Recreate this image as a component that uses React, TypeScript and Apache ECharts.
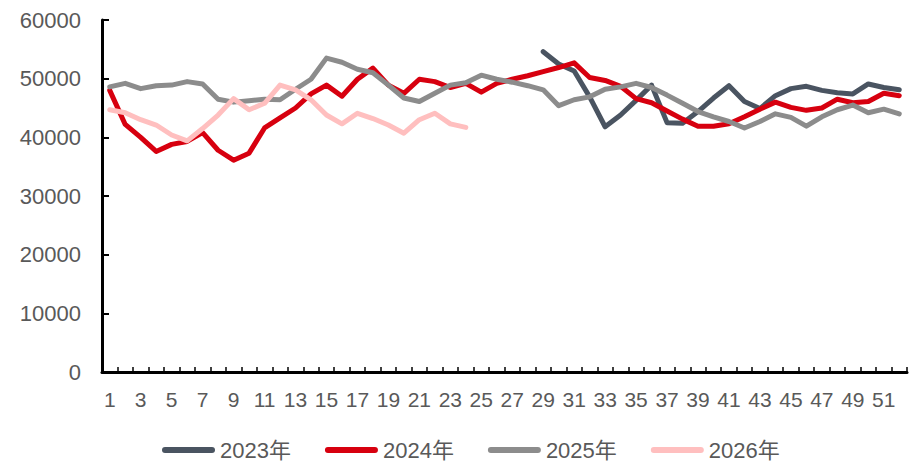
import React, { useEffect, useRef } from "react";
import * as echarts from "echarts";

const weeks: string[] = Array.from({ length: 52 }, (_, i) => String(i + 1));

const yTicks = [0, 10000, 20000, 30000, 40000, 50000, 60000];

const s2023: (number | null)[] = [
  null, null, null, null, null, null, null, null, null, null,
  null, null, null, null, null, null, null, null, null, null,
  null, null, null, null, null, null, null, null,
  54600, 52500, 51300, 46900, 41800, 43800, 46300, 48900, 42500, 42400,
  44400, 46700, 48800, 46100, 44900, 47100, 48300, 48700, 48000, 47600,
  47400, 49100, 48500, 48100,
];

const s2024: number[] = [
  48000, 42200, 40000, 37600, 38800, 39300, 40800, 37800, 36100, 37300,
  41600, 43300, 45000, 47400, 48900, 47000, 49900, 51800, 48900, 47500,
  49900, 49500, 48500, 49200, 47700, 49200, 49900, 50500, 51200, 51900,
  52700, 50200, 49700, 48700, 46600, 45900, 44500, 43100, 41900, 41900,
  42300, 43500, 44800, 46000, 45100, 44600, 45000, 46500, 45900, 46100,
  47500, 47100,
];

const s2025: number[] = [
  48600, 49200, 48300, 48800, 48900, 49500, 49100, 46500, 46000, 46250,
  46500, 46400, 48200, 49900, 53500, 52800, 51600, 51000, 48900, 46700,
  46100, 47500, 48900, 49300, 50600, 49900, 49400, 48800, 48100, 45400,
  46400, 46900, 48200, 48600, 49200, 48500, 47200, 45800, 44400, 43500,
  42700, 41600, 42700, 44000, 43400, 41900, 43500, 44700, 45500, 44200,
  44800, 44000,
];

const s2026: number[] = [
  44700, 44200, 43000, 42100, 40400, 39400, 41500, 43800, 46600, 44700,
  45800, 48900, 48100, 46400, 43800, 42300, 44100, 43200, 42100, 40700,
  43000, 44100, 42300, 41700,
];

const seriesNames = ["2023年", "2024年", "2025年", "2026年"];
const seriesColors = ["#4a5461", "#d7000f", "#8c8c8c", "#ffbfbf"];

export default function App() {
  const ref = useRef<HTMLDivElement>(null);

  useEffect(() => {
    document.body.style.margin = "0";
    if (!ref.current) return;
    const chart = echarts.init(ref.current, undefined, { renderer: "svg" });
    const dataSets = [s2023, s2024, s2025, s2026];
    const legendIcon =
      "path://M3,0 L50,0 A3,3 0 0 1 50,6 L3,6 A3,3 0 0 1 3,0 Z";
    chart.setOption({
      animation: false,
      backgroundColor: "#ffffff",
      grid: { left: 102, right: 2, top: 20, bottom: 93, containLabel: false },
      legend: {
        data: seriesNames.map((n) => ({ name: n, icon: legendIcon })),
        left: 162,
        top: 439,
        padding: 0,
        itemWidth: 53,
        itemHeight: 6,
        itemGap: 34,
        textStyle: {
          color: "#595959",
          fontSize: 22,
          fontFamily: "'Liberation Sans', Arial, 'Noto Sans CJK SC', sans-serif",
        },
      },
      xAxis: {
        type: "category",
        data: weeks,
        boundaryGap: true,
        axisLine: { show: true, lineStyle: { color: "#000000", width: 3 } },
        axisTick: {
          show: true,
          inside: true,
          length: 5,
          interval: 0,
          alignWithLabel: false,
          lineStyle: { color: "#000000", width: 1.5 },
        },
        axisLabel: {
          interval: 1,
          margin: 17,
          color: "#595959",
          fontSize: 21,
          fontFamily: "'Liberation Sans Narrow', 'Arial Narrow', 'Liberation Sans', sans-serif",
        },
        splitLine: { show: false },
      },
      yAxis: {
        type: "value",
        min: yTicks[0],
        max: yTicks[yTicks.length - 1],
        interval: 10000,
        axisLine: { show: true, lineStyle: { color: "#000000", width: 3 } },
        axisTick: {
          show: true,
          inside: true,
          length: 7,
          lineStyle: { color: "#000000", width: 2 },
        },
        axisLabel: {
          margin: 21,
          color: "#595959",
          fontSize: 22,
          fontFamily: "'Liberation Sans', Arial, sans-serif",
          formatter: (v: number) => String(v),
        },
        splitLine: { show: false },
      },
      series: dataSets.map((d, i) => ({
        name: seriesNames[i],
        type: "line",
        data: d,
        showSymbol: false,
        symbol: "none",
        connectNulls: false,
        color: seriesColors[i],
        lineStyle: {
          color: seriesColors[i],
          width: 5,
          cap: "round",
          join: "round",
        },
        itemStyle: { color: seriesColors[i] },
        z: 2 + i,
      })),
    });
    return () => {
      chart.dispose();
    };
  }, []);

  return (
    <div
      ref={ref}
      style={{ position: "absolute", left: 0, top: 0, width: 909, height: 465 }}
    />
  );
}
